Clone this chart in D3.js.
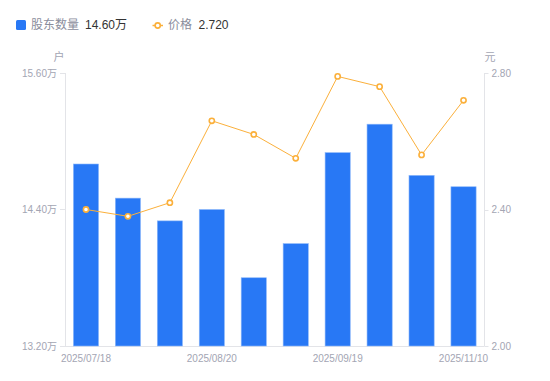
<!DOCTYPE html>
<html><head><meta charset="utf-8">
<script src="https://cdn.jsdelivr.net/npm/d3@7"></script>
<style>
html,body{margin:0;padding:0;background:#fff;}
svg{display:block;font-family:"Liberation Sans","Noto Sans CJK SC",Arial,sans-serif;}
</style></head>
<body><svg id="c" width="550" height="381"></svg>
<script>
const categories = ["2025/07/18","2025/07/31","2025/08/10","2025/08/20","2025/08/29","2025/09/10","2025/09/19","2025/09/30","2025/10/20","2025/11/10"];
const holders = [14.80,14.50,14.30,14.40,13.80,14.10,14.90,15.15,14.70,14.60];
const prices = [2.40,2.38,2.42,2.66,2.62,2.55,2.79,2.76,2.56,2.72];
const leftTicks = [13.20,14.40,15.60];
const rightTicks = [2.00,2.40,2.80];
const shownLabels = ["2025/07/18","2025/08/20","2025/09/19","2025/11/10"];

const svg = d3.select("#c");
const L = 65, R = 484.5, T = 73, B = 346;
const blue = "#2878f5", orange = "#fbb03b";
const axisCol = "#e3e4e8", labelCol = "#a3a5b3";

const x = d3.scaleBand().domain(categories).range([L, R]).paddingInner(0.4).paddingOuter(0.2);
const xc = d3.scaleBand().domain(categories).range([L, R]);
const yL = d3.scaleLinear().domain([13.20, 15.60]).range([B, T]);
const yR = d3.scaleLinear().domain([2.00, 2.80]).range([B, T]);

// axes lines
const g = svg.append("g");
g.append("line").attr("x1", L+0.5).attr("x2", L+0.5).attr("y1", T).attr("y2", B).attr("stroke", axisCol);
g.append("line").attr("x1", R).attr("x2", R).attr("y1", T).attr("y2", B).attr("stroke", axisCol);
g.append("line").attr("x1", L).attr("x2", R).attr("y1", B+0.5).attr("y2", B+0.5).attr("stroke", axisCol);

// left ticks
const lt = svg.append("g").selectAll("g").data(leftTicks).join("g");
lt.append("line").attr("x1", L-5).attr("x2", L).attr("y1", d => Math.round(yL(d))+0.5).attr("y2", d => Math.round(yL(d))+0.5).attr("stroke", axisCol);
lt.append("text").attr("x", L-8).attr("y", d => yL(d)).attr("dy", "0.35em").attr("text-anchor", "end")
  .attr("font-size", 10).attr("fill", labelCol).text(d => d.toFixed(2) + "万");
// right ticks
const rt = svg.append("g").selectAll("g").data(rightTicks).join("g");
rt.append("line").attr("x1", R).attr("x2", R+4).attr("y1", d => Math.round(yR(d))+0.5).attr("y2", d => Math.round(yR(d))+0.5).attr("stroke", axisCol);
rt.append("text").attr("x", R+7).attr("y", d => yR(d)).attr("dy", "0.35em").attr("text-anchor", "start")
  .attr("font-size", 10).attr("fill", labelCol).text(d => d.toFixed(2));

// axis names
svg.append("text").attr("x", 59).attr("y", 57).attr("dy", "0.35em").attr("text-anchor", "middle").attr("font-size", 11).attr("fill", labelCol).text("户");
svg.append("text").attr("x", 490).attr("y", 57).attr("dy", "0.35em").attr("text-anchor", "middle").attr("font-size", 11).attr("fill", labelCol).text("元");

// x labels
svg.append("g").selectAll("text").data(shownLabels).join("text")
  .attr("x", d => xc(d) + xc.bandwidth()/2).attr("y", 358).attr("dy", "0.35em").attr("text-anchor", "middle")
  .attr("font-size", 10).attr("fill", labelCol).text(d => d);

// bars
svg.append("g").selectAll("rect").data(categories).join("rect")
  .attr("x", d => x(d)).attr("width", x.bandwidth())
  .attr("y", (d,i) => yL(holders[i])).attr("height", (d,i) => B - yL(holders[i]))
  .attr("fill", blue).attr("stroke", "#8db8fa").attr("stroke-width", 0.6);

// line
const line = d3.line().x((d,i) => xc(categories[i]) + xc.bandwidth()/2).y(d => yR(d));
svg.append("path").datum(prices).attr("d", line).attr("fill", "none").attr("stroke", orange).attr("stroke-width", 1);
svg.append("g").selectAll("circle").data(prices).join("circle")
  .attr("cx", (d,i) => xc(categories[i]) + xc.bandwidth()/2).attr("cy", d => yR(d)).attr("r", 2.6)
  .attr("fill", "#fff").attr("stroke", orange).attr("stroke-width", 1.6);

// legend
const lg = svg.append("g");
lg.append("rect").attr("x", 16).attr("y", 20).attr("width", 10).attr("height", 10).attr("rx", 1.5).attr("fill", blue);
lg.append("text").attr("x", 31).attr("y", 25).attr("dy", "0.35em").attr("font-size", 12).attr("fill", "#8a8d9c").text("股东数量");
lg.append("text").attr("x", 85).attr("y", 25).attr("dy", "0.35em").attr("font-size", 12).attr("fill", "#333").text(holders[holders.length-1].toFixed(2) + "万");
lg.append("line").attr("x1", 152.5).attr("x2", 163).attr("y1", 25.5).attr("y2", 25.5).attr("stroke", orange).attr("stroke-width", 1.5);
lg.append("circle").attr("cx", 157.7).attr("cy", 25.5).attr("r", 2.6).attr("fill", "#fff").attr("stroke", orange).attr("stroke-width", 1.6);
lg.append("text").attr("x", 168).attr("y", 25).attr("dy", "0.35em").attr("font-size", 12).attr("fill", "#8a8d9c").text("价格");
lg.append("text").attr("x", 198.5).attr("y", 25).attr("dy", "0.35em").attr("font-size", 12).attr("fill", "#333").text(prices[prices.length-1].toFixed(3));
</script></body></html>
